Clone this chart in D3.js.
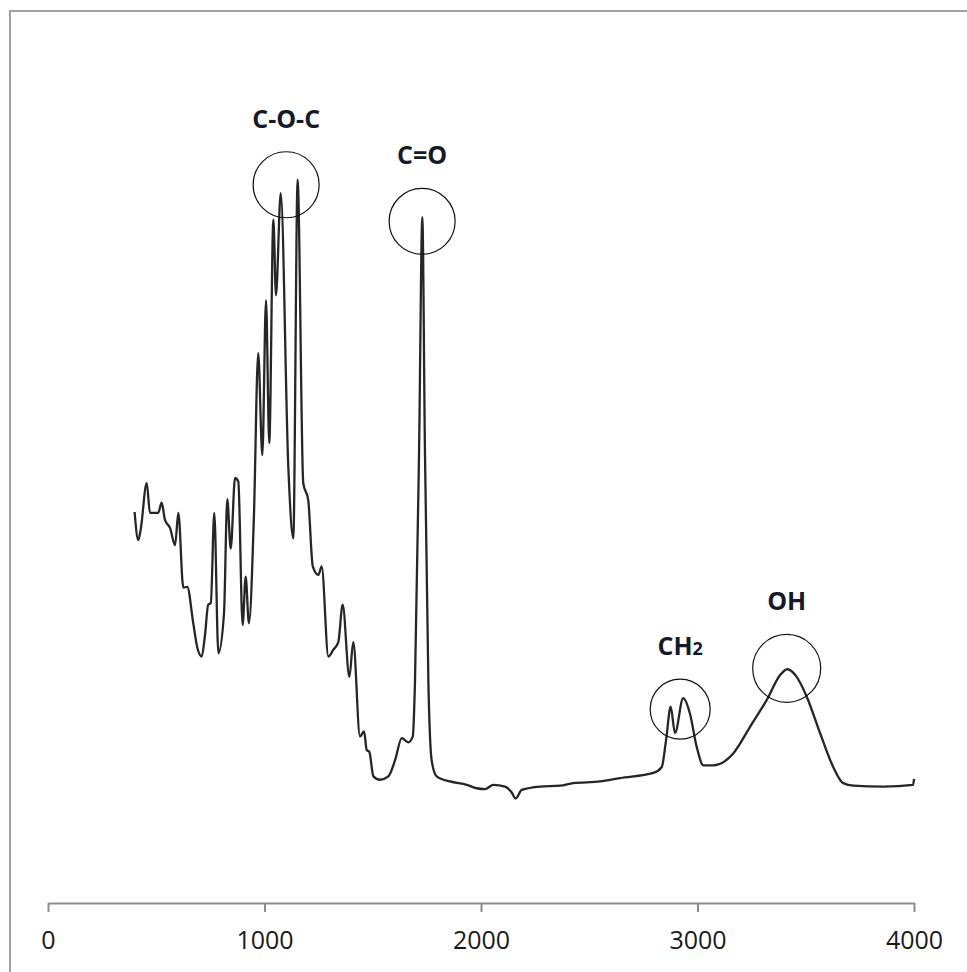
<!DOCTYPE html>
<html>
<head>
<meta charset="utf-8">
<script src="https://cdn.jsdelivr.net/npm/d3@7"></script>
<style>
  html, body { margin: 0; padding: 0; background: #fff; }
  svg { display: block; }
</style>
</head>
<body>
<svg id="chart" width="967" height="972"></svg>
<script>
// FTIR spectrum: wavenumber (cm-1) and relative absorbance (arbitrary units)
const wavenumbers = [
  400, 417, 428, 456, 471, 509, 525, 540, 564, 587, 602, 625, 643, 671, 690, 710, 725, 740, 752,
  768, 787, 813, 828, 844, 864, 879, 899, 913, 928, 951, 971, 990, 1007, 1022, 1041, 1053,
  1075, 1110, 1133, 1153, 1179, 1202, 1223, 1249, 1264, 1295, 1318, 1341, 1361, 1392, 1410,
  1441, 1460, 1472, 1484, 1503, 1533, 1572, 1603, 1634, 1664, 1685, 1695, 1714, 1729, 1741,
  1757, 1772, 1795, 1857, 1934, 1980, 2018, 2057, 2111, 2142, 2160, 2188, 2273, 2365, 2426,
  2550, 2642, 2796, 2835, 2855, 2876, 2896, 2934, 2965, 2996, 3027, 3073, 3165, 3242, 3320,
  3381, 3415, 3458, 3504, 3566, 3627, 3673, 3720, 3858, 3996, 4000
];
const absorbance = [
  46.0, 42.7, 43.9, 49.4, 45.9, 45.9, 47.1, 45.1, 44.1, 42.1, 45.9, 37.1, 37.2, 32.9, 30.0, 29.0, 31.5, 35.1, 35.3,
  45.9, 29.4, 34.1, 47.5, 41.7, 50.0, 49.6, 32.7, 38.4, 32.9, 45.4, 64.7, 52.7, 70.9, 54.1, 80.4, 71.5,
  83.5, 51.3, 42.9, 85.1, 49.4, 47.4, 39.6, 38.6, 39.6, 29.0, 29.8, 30.7, 35.1, 26.6, 30.7,
  19.6, 20.2, 18.0, 17.8, 14.9, 14.5, 14.9, 16.8, 19.4, 18.9, 19.6, 25.9, 53.3, 80.7, 53.3,
  25.9, 16.8, 14.9, 14.3, 13.9, 13.5, 13.4, 13.9, 13.7, 13.0, 12.3, 13.3, 13.7, 13.8, 14.1,
  14.3, 14.7, 15.3, 16.0, 19.2, 23.1, 20.0, 24.1, 22.3, 18.4, 16.2, 16.2, 17.6, 20.7, 23.9,
  26.8, 27.5, 26.6, 24.3, 20.0, 16.0, 14.1, 13.8, 13.7, 13.9, 14.6
];

// Band assignments: label, wavenumber and absorbance of the circled region
const bandLabels = ["C-O-C", "C=O", "CH", "OH"];
const bandSubscripts = ["", "", "2", ""];
const bandCenters = [1100, 1728, 2920, 3412];
const bandLevels = [84.5, 80.2, 22.8, 27.6];
const bandRadii = [33, 33, 30, 34];

const xTicks = [0, 1000, 2000, 3000, 4000];

const svg = d3.select("#chart");

// Outer chart frame
svg.append("rect")
  .attr("x", 10).attr("y", 11)
  .attr("width", 980).attr("height", 990)
  .attr("fill", "none")
  .attr("stroke", "#a0a0a0")
  .attr("stroke-width", 2);

const x = d3.scaleLinear().domain([0, 4000]).range([48, 914]);
const y = d3.scaleLinear().domain([0, 100]).range([903, 53]);

// X axis
const axis = svg.append("g")
  .attr("transform", `translate(0,${y(0)})`)
  .call(d3.axisBottom(x).tickValues(xTicks).tickFormat(d3.format("d"))
    .tickSize(9).tickPadding(19).tickSizeOuter(0));
axis.select(".domain").attr("stroke", "#8c8c8c").attr("stroke-width", 2);
axis.selectAll(".tick line").attr("stroke", "#8c8c8c").attr("stroke-width", 2);
axis.selectAll(".tick text")
  .attr("font-family", "'Open Sans', sans-serif")
  .attr("font-size", 25)
  .attr("fill", "#1a1a1a");

// Spectrum line
const pts = wavenumbers.map((w, i) => [w, absorbance[i]]);
svg.append("path")
  .datum(pts)
  .attr("fill", "none")
  .attr("stroke", "#262626")
  .attr("stroke-width", 2.3)
  .attr("stroke-linejoin", "round")
  .attr("d", d3.line().x(d => x(d[0])).y(d => y(d[1])).curve(d3.curveMonotoneX));

// Band circles and labels
const bands = bandLabels.map((l, i) => ({
  label: l, sub: bandSubscripts[i], wn: bandCenters[i], a: bandLevels[i], r: bandRadii[i]
}));

svg.selectAll("circle.band")
  .data(bands)
  .join("circle")
  .attr("class", "band")
  .attr("cx", d => x(d.wn))
  .attr("cy", d => y(d.a))
  .attr("r", d => d.r)
  .attr("fill", "none")
  .attr("stroke", "#111")
  .attr("stroke-width", 1.2);

const labels = svg.selectAll("text.band")
  .data(bands)
  .join("text")
  .attr("class", "band")
  .attr("x", d => x(d.wn))
  .attr("y", d => y(d.a) - d.r - 24)
  .attr("text-anchor", "middle")
  .attr("font-family", "'Open Sans', sans-serif")
  .attr("font-weight", 700)
  .attr("font-size", 25)
  .attr("fill", "#151a2a");
labels.append("tspan").text(d => d.label);
labels.append("tspan").attr("font-size", 18).text(d => d.sub);
</script>
</body>
</html>
